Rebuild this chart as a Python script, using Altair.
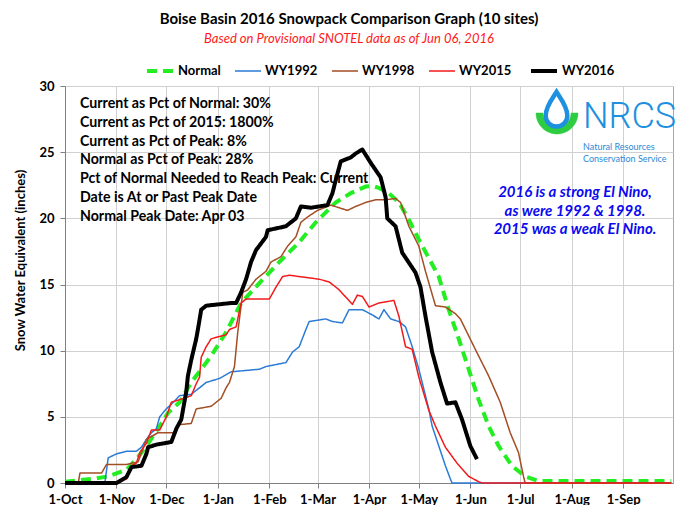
import altair as alt
import pandas as pd

START = pd.Timestamp("2015-10-01")

series_names = ["Normal", "WY1992", "WY1998", "WY2015", "WY2016"]
series_colors = ["#22EE22", "#2A7BD6", "#A34E25", "#F21B1B", "#000000"]
series_widths = [4, 1.5, 1.5, 1.5, 4]
series_dashes = [[10, 6], [1, 0], [1, 0], [1, 0], [1, 0]]

month_ticks = [(2015, 10), (2015, 11), (2015, 12), (2016, 1), (2016, 2), (2016, 3),
               (2016, 4), (2016, 5), (2016, 6), (2016, 7), (2016, 8), (2016, 9)]
y_ticks = [0, 5, 10, 15, 20, 25, 30]

# days since 1-Oct and snow water equivalent (inches)
normal_days = [0, 16, 26, 37, 43, 49, 56, 62, 69, 76, 82, 88, 97, 106, 117, 129, 141, 151, 163, 172,
               181, 185, 189, 195, 201, 207, 213, 219, 225, 231, 237, 243, 249, 255, 261, 269, 277, 285, 365]
normal_vals = [0.1, 0.3, 0.5, 1.0, 1.8, 2.8, 4.1, 5.3, 6.1, 7.6, 8.6, 9.6, 11.4, 13.6, 15.1, 16.7, 18.2, 19.7, 21.2, 21.9,
               22.4, 22.45, 22.3, 21.9, 21.2, 19.9, 18.4, 17.0, 15.6, 13.1, 10.9, 8.6, 6.3, 4.3, 2.8, 1.3, 0.5, 0.15, 0.15]

wy1992_days = [0, 24, 26, 31, 37, 43, 46, 49, 52, 55, 57, 61, 66, 69, 76, 85, 93, 100, 117, 121, 133, 137,
               141, 145, 147, 157, 161, 167, 171, 179, 185, 189, 192, 196, 201, 205, 209, 213, 219, 221,
               225, 229, 232, 233, 365]
wy1992_vals = [0, 0, 1.9, 2.2, 2.4, 2.4, 2.7, 3.3, 3.8, 4.1, 5.0, 5.6, 6.2, 6.6, 6.7, 7.6, 7.9, 8.4, 8.6, 8.8, 9.1, 9.9,
               10.3, 11.6, 12.2, 12.4, 12.2, 12.1, 13.1, 13.1, 12.7, 12.4, 13.1, 12.4, 12.2, 11.8, 10.3, 8.6, 5.6, 4.3,
               2.8, 1.3, 0.3, 0, 0]

wy1998_days = [0, 8, 9, 22, 25, 37, 44, 49, 56, 67, 68, 76, 79, 88, 94, 97, 99, 102, 104, 107,
               110, 115, 121, 124, 130, 134, 139, 142, 146, 152, 160, 170, 175, 181, 187, 193, 199, 202, 207, 213,
               217, 223, 229, 235, 238, 247, 255, 262, 268, 273, 276, 277, 365]
wy1998_vals = [0, 0, 0.75, 0.75, 1.4, 1.4, 1.6, 3.3, 3.8, 3.8, 4.4, 4.5, 5.6, 5.8, 6.4, 7.2, 7.6, 8.8, 11.4, 14.4,
               14.6, 15.4, 16.0, 16.7, 17.1, 17.9, 18.6, 19.7, 20.1, 20.6, 21.0, 20.6, 20.9, 21.2, 21.4, 21.4, 21.5, 21.2, 19.4, 17.9,
               16.0, 13.4, 13.3, 12.8, 12.4, 10.1, 8.1, 6.1, 3.8, 2.3, 0.5, 0, 0]

wy2015_days = [0, 31, 37, 40, 43, 45, 49, 52, 57, 61, 64, 69, 76, 79, 81, 82, 85, 88, 97, 99,
               103, 106, 109, 123, 127, 131, 135, 141, 153, 159, 165, 173, 176, 179, 183, 189, 198, 201, 205, 209,
               213, 219, 223, 229, 236, 243, 249, 251, 365]
wy2015_vals = [0, 0, 0.3, 1.3, 1.5, 2.3, 3.0, 4.0, 4.0, 5.0, 6.1, 6.3, 6.6, 7.5, 8.0, 9.5, 10.3, 10.9, 11.2, 11.6,
               11.8, 13.6, 13.9, 13.9, 14.8, 15.6, 15.7, 15.6, 15.4, 15.2, 14.6, 13.5, 14.2, 14.1, 13.3, 13.6, 13.8, 12.6, 10.3, 10.1,
               8.0, 5.5, 4.3, 2.7, 1.5, 0.5, 0.1, 0, 0]

wy2016_days = [0, 31, 37, 40, 46, 49, 50, 55, 64, 67, 70, 73, 74, 76, 79, 80, 82, 85, 100, 103,
               106, 109, 112, 115, 121, 122, 133, 139, 142, 148, 158, 161, 163, 166, 172, 175, 179, 184, 190, 193,
               194, 199, 203, 211, 214, 217, 221, 226, 230, 235, 239, 244, 248]
wy2016_vals = [0, 0, 0.45, 1.2, 1.3, 2.2, 2.7, 2.9, 3.1, 4.1, 4.8, 6.9, 8.1, 9.3, 10.9, 11.6, 13.1, 13.4, 13.6, 13.6,
               14.4, 15.4, 16.7, 17.6, 18.6, 19.1, 19.4, 20.0, 20.9, 20.8, 21.0, 21.9, 22.9, 24.3, 24.6, 24.9, 25.2, 24.2, 23.1, 21.6,
               20.0, 19.4, 17.4, 15.9, 14.8, 12.6, 9.9, 7.6, 6.0, 6.1, 4.8, 2.8, 1.8]

stats_lines = [
    "Current as Pct of Normal: 30%",
    "Current as Pct of 2015: 1800%",
    "Current as Pct of Peak: 8%",
    "Normal as Pct of Peak: 28%",
    "Pct of Normal Needed to Reach Peak: Current",
    "Date is At or Past Peak Date",
    "Normal Peak Date: Apr 03",
]
nino_lines = ["2016 is a strong El Nino,", "as were 1992 & 1998.", "2015 was a weak El Nino."]

frames = []
for name, d, v in [("Normal", normal_days, normal_vals), ("WY1992", wy1992_days, wy1992_vals),
                   ("WY1998", wy1998_days, wy1998_vals), ("WY2015", wy2015_days, wy2015_vals),
                   ("WY2016", wy2016_days, wy2016_vals)]:
    frames.append(pd.DataFrame({"series": name,
                                "date": START + pd.to_timedelta(d, unit="D"),
                                "swe": v}))
df = pd.concat(frames, ignore_index=True)

FONT = "Lato"
legend = alt.Legend(orient="none", legendX=80, legendY=-30, direction="horizontal", title=None,
                    symbolType="stroke", symbolSize=676, labelFont=FONT, labelFontSize=13,
                    labelFontWeight="bold", labelColor="black", columnPadding=11, labelOffset=3,
                    padding=0)

tick_dates = [alt.DateTime(year=y, month=m, date=1) for y, m in month_ticks]

lines = alt.Chart(df).mark_line(strokeJoin="round").encode(
    x=alt.X("date:T",
            scale=alt.Scale(domain=[alt.DateTime(year=2015, month=10, date=1),
                                    alt.DateTime(year=2016, month=10, date=1)]),
            axis=alt.Axis(values=tick_dates, format="%-d-%b", title=None, labelPadding=5,
                          labelFlush=False)),
    y=alt.Y("swe:Q", scale=alt.Scale(domain=[0, 30], nice=False),
            axis=alt.Axis(values=y_ticks, title="Snow Water Equivalent (inches)",
                          titlePadding=11, labelPadding=6, titleY=174)),
    color=alt.Color("series:N", scale=alt.Scale(domain=series_names, range=series_colors), legend=legend),
    strokeDash=alt.StrokeDash("series:N", scale=alt.Scale(domain=series_names, range=series_dashes), legend=legend),
    strokeWidth=alt.StrokeWidth("series:N", scale=alt.Scale(type="ordinal", domain=series_names, range=series_widths),
                                legend=legend),
)

one = pd.DataFrame({"k": [0]})

stats = alt.Chart(one).mark_text(text=stats_lines, align="left", baseline="top", font=FONT,
                                 fontSize=14.2, fontWeight="bold", lineHeight=18.8, color="black").encode(
    x=alt.value(15), y=alt.value(11))

nino = alt.Chart(one).mark_text(text=nino_lines, align="center", baseline="top", font=FONT,
                                fontSize=15, fontWeight="bold", fontStyle="italic", lineHeight=18.5,
                                color="#0A0AF0").encode(x=alt.value(510), y=alt.value(99))

drop_path = "M0,-1 C0.25,-0.6 0.62,-0.15 0.62,0.35 A0.62,0.62 0 1,1 -0.62,0.35 C-0.62,-0.15 -0.25,-0.6 0,-1 Z"
arc_path = "M-1,0 A1,1 0 0,0 1,0 L0.67,0 A0.67,0.67 0 0,1 -0.67,0 Z"

green_arc = alt.Chart(one).mark_point(shape=arc_path, size=1764, filled=True, fill="#2ECC40",
                                      stroke="#2ECC40", strokeWidth=0.5, opacity=1).encode(
    x=alt.value(492), y=alt.value(27))
drop = alt.Chart(one).mark_point(shape=drop_path, size=1225, fill="white", fillOpacity=1,
                                 stroke="#1E90E0", strokeWidth=4.5, opacity=1).encode(
    x=alt.value(491.5), y=alt.value(23.5))

nrcs = alt.Chart(one).mark_text(text="NRCS", align="left", baseline="alphabetic",
                                font="Roboto", fontWeight=300,
                                fontSize=36, color="#1E90E0").encode(x=alt.value(518), y=alt.value(42))
nrcs_sub = alt.Chart(one).mark_text(text=["Natural Resources", "Conservation Service"], align="left",
                                    baseline="top", font=FONT, fontSize=9, lineHeight=12,
                                    color="#2A8AD8").encode(x=alt.value(518), y=alt.value(57))

chart = alt.layer(lines, stats, nino, green_arc, drop, nrcs, nrcs_sub).properties(
    width=608, height=397,
    autosize=alt.AutoSizeParams(type="none"),
    padding={"left": 57, "top": 78, "right": 2, "bottom": 22},
    title=alt.TitleParams(text="Boise Basin 2016 Snowpack Comparison Graph (10 sites)",
                          subtitle="Based on Provisional SNOTEL data as of Jun 06, 2016",
                          font=FONT, fontSize=15, fontWeight="bold", color="black",
                          subtitleFont=FONT, subtitleFontSize=13, subtitleFontStyle="italic",
                          subtitleColor="#FF1A1A", subtitlePadding=6, anchor="middle", dx=-20,
                          offset=10),
).configure_view(stroke="#a6a6a6", strokeWidth=1).configure_axis(
    labelFont=FONT, labelFontWeight="bold", labelFontSize=13, labelColor="black",
    gridColor="#d0d0d0", gridWidth=1, domainColor="#808080", tickColor="#808080", tickSize=5,
    titleFont=FONT, titleFontWeight="bold", titleFontSize=13, titleColor="black")

chart.save("out.html", embed_options={"renderer": "svg", "actions": False})
